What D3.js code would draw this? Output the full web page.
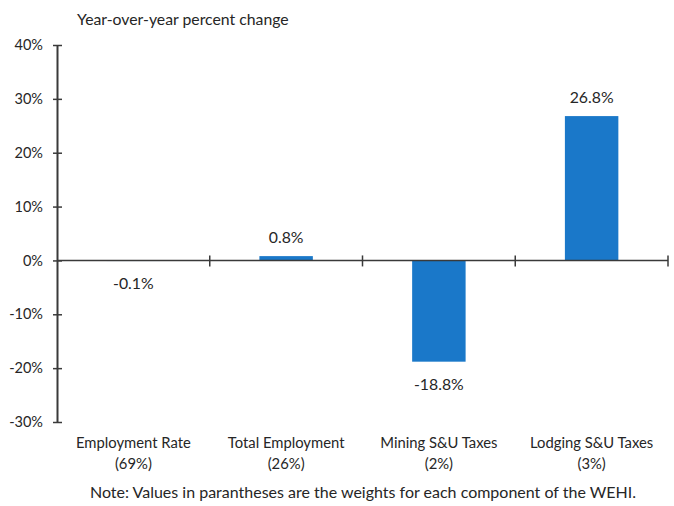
<!DOCTYPE html>
<html>
<head>
<meta charset="utf-8">
<script src="https://cdn.jsdelivr.net/npm/d3@7"></script>
<style>
  html, body { margin: 0; padding: 0; background: #fff; }
  svg { display: block; }
  text { font-family: Lato, "Open Sans", sans-serif; fill: #262626; }
</style>
</head>
<body>
<div id="chart"></div>
<script>
// WEHI components: year-over-year percent change
const categories = ["Employment Rate", "Total Employment", "Mining S&U Taxes", "Lodging S&U Taxes"];
const weights = ["(69%)", "(26%)", "(2%)", "(3%)"];
const values = [-0.1, 0.8, -18.8, 26.8];
const yTicks = [40, 30, 20, 10, 0, -10, -20, -30];

const W = 674, H = 506;
const margin = { left: 57, right: 6, top: 45, bottom: 84 };
const font = "Lato, 'Open Sans', sans-serif";

const svg = d3.select("#chart").append("svg")
  .attr("width", W).attr("height", H);

const x = d3.scaleBand()
  .domain(categories)
  .range([margin.left, W - margin.right])
  .padding(0);

const y = d3.scaleLinear()
  .domain([-30, 40])
  .range([H - margin.bottom, margin.top]);

const barW = x.bandwidth() * 0.35;
const axisColor = "#3a3a3a";

// Title
svg.append("text")
  .attr("x", 77).attr("y", 25)
  .attr("font-size", 15.8)
  .text("Year-over-year percent change");

// Bars
svg.append("g").selectAll("rect")
  .data(values)
  .join("rect")
  .attr("x", (d, i) => x(categories[i]) + (x.bandwidth() - barW) / 2)
  .attr("width", barW)
  .attr("y", d => y(Math.max(0, d)))
  .attr("height", d => Math.max(0.6, Math.abs(y(d) - y(0))))
  .attr("fill", "#1a78c9");

// Y axis
const yAxis = svg.append("g")
  .attr("transform", `translate(${margin.left},0)`)
  .call(d3.axisLeft(y).tickValues(yTicks).tickFormat(d => d + "%").tickSize(0).tickPadding(14));
yAxis.select(".domain").attr("stroke", axisColor).attr("stroke-width", 2);
yAxis.selectAll(".tick text").attr("font-size", 14.5).attr("fill", "#262626")
  .style("font-family", font);
yAxis.selectAll(".tick").append("line")
  .attr("x1", -4).attr("x2", 5)
  .attr("stroke", axisColor).attr("stroke-width", 1.5);

// X axis at zero
const x0 = y(0);
svg.append("line")
  .attr("x1", margin.left).attr("x2", W - margin.right)
  .attr("y1", x0).attr("y2", x0)
  .attr("stroke", axisColor).attr("stroke-width", 1.5);
svg.append("g").selectAll("line")
  .data(categories)
  .join("line")
  .attr("x1", d => x(d) + x.bandwidth())
  .attr("x2", d => x(d) + x.bandwidth())
  .attr("y1", x0 - 5).attr("y2", x0 + 6)
  .attr("stroke", axisColor).attr("stroke-width", 1.5);

// Value labels
svg.append("g").selectAll("text")
  .data(values)
  .join("text")
  .attr("x", (d, i) => x(categories[i]) + x.bandwidth() / 2)
  .attr("y", d => d >= 0 ? y(d) - 13 : y(d) + 28)
  .attr("text-anchor", "middle")
  .attr("font-size", 15.8)
  .text(d => d.toFixed(1) + "%");

// Category labels
const cat = svg.append("g").selectAll("text")
  .data(categories)
  .join("text")
  .attr("text-anchor", "middle")
  .attr("font-size", 14.8)
  .attr("x", d => x(d) + x.bandwidth() / 2);
cat.append("tspan").attr("x", d => x(d) + x.bandwidth() / 2).attr("y", 448).text(d => d);
cat.append("tspan").attr("x", d => x(d) + x.bandwidth() / 2).attr("y", 469).text((d, i) => weights[i]);

// Note
svg.append("text")
  .attr("x", 363).attr("y", 498)
  .attr("text-anchor", "middle")
  .attr("font-size", 16)
  .text("Note: Values in parantheses are the weights for each component of the WEHI.");
</script>
</body>
</html>
